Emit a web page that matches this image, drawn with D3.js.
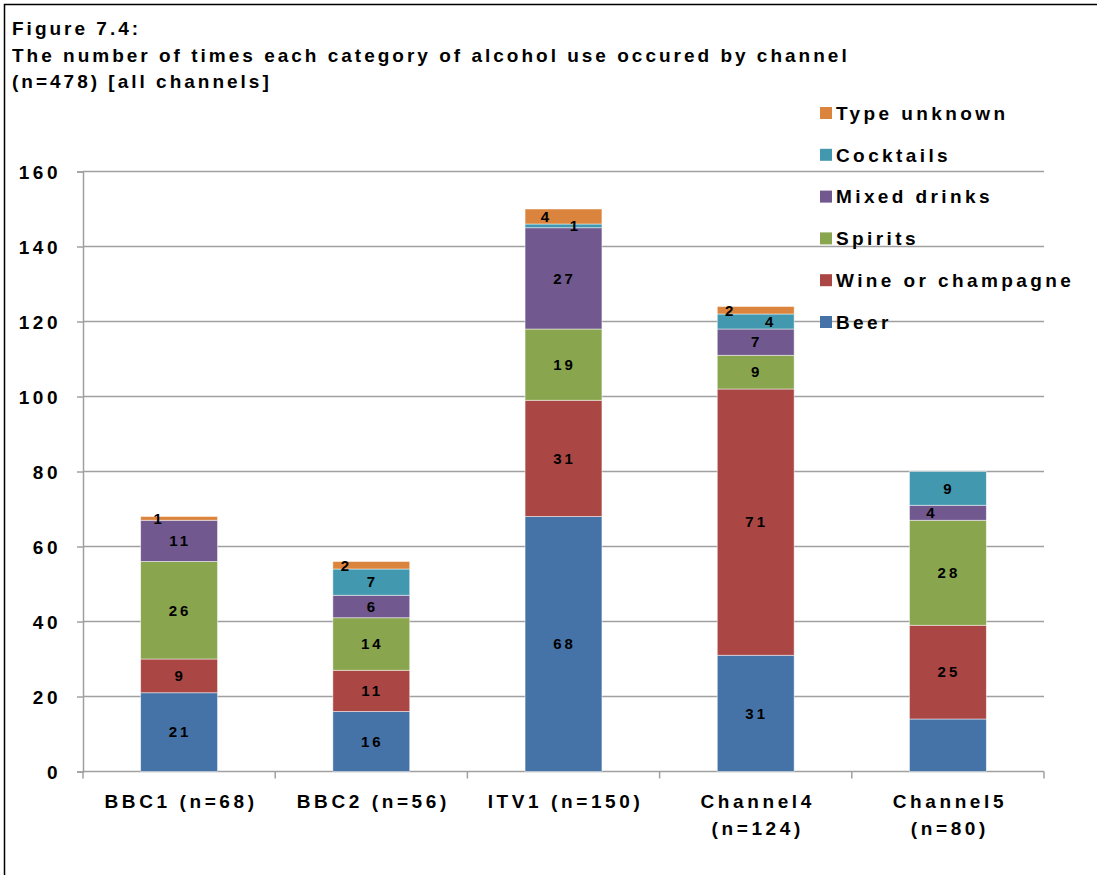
<!DOCTYPE html>
<html><head><meta charset="utf-8">
<script src="https://cdn.jsdelivr.net/npm/d3@7"></script>
<style>
html,body{margin:0;padding:0;background:#fff;}
svg{display:block;font-family:"Liberation Sans",Arial,sans-serif;font-weight:bold;}
</style></head>
<body><svg id="c" width="1097" height="875"></svg>
<script>
const categories = ["BBC1 (n=68)","BBC2 (n=56)","ITV1 (n=150)","Channel4\n(n=124)","Channel5\n(n=80)"];
const seriesNames = ["Beer","Wine or champagne","Spirits","Mixed drinks","Cocktails","Type unknown"];
const beer      = [21,16,68,31,14];
const wine      = [9,11,31,71,25];
const spirits   = [26,14,19,9,28];
const mixed     = [11,6,27,7,4];
const cocktails = [0,7,1,4,9];
const unknown   = [1,2,4,2,0];
const showLabel = [[1,1,1,1,0],[1,1,1,1,1],[1,1,1,1,1],[1,1,1,1,1],[0,1,1,1,1],[1,1,1,1,0]];
const yTicks = [0,20,40,60,80,100,120,140,160];
const colors = ["#4572A7","#AA4643","#89A54E","#71588F","#4198AF","#DB843D"];
// small-label horizontal nudges (px) as in original
const nudge = {"5-0":-21,"5-1":-26,"5-2":-18,"4-2":11,"5-3":-26,"4-3":14,"3-4":-17};

const series = [beer,wine,spirits,mixed,cocktails,unknown];
const svg = d3.select("#c");

svg.append("rect").attr("x",4.5).attr("y",4.5).attr("width",1200).attr("height",1000)
  .attr("fill","none").attr("stroke","#000").attr("stroke-width",1.5);

const title = ["Figure 7.4:","The number of times each category of alcohol use occured by channel","(n=478) [all channels]"];
svg.selectAll("text.title").data(title).join("text").attr("class","title")
  .attr("x",12).attr("y",(d,i)=>[35,62,88][i]).attr("font-size",19).attr("letter-spacing","3px")
  .text(d=>d);

const x = d3.scaleBand().domain(categories).range([83,1044]).paddingInner(0.6).paddingOuter(0.3);
const y = d3.scaleLinear().domain([0,160]).range([771.5,171.5]);

const grid = "#a0a0a0";
svg.append("g").selectAll("line").data(yTicks.filter(d=>d>0)).join("line")
  .attr("x1",83).attr("x2",1044).attr("y1",d=>y(d)).attr("y2",d=>y(d))
  .attr("stroke",grid).attr("stroke-width",1.5);

const yAxis = svg.append("g").attr("transform","translate(83,0)")
  .call(d3.axisLeft(y).tickValues(yTicks).tickSize(6).tickPadding(16));
yAxis.select(".domain").attr("stroke",grid).attr("stroke-width",1.5);
yAxis.selectAll(".tick line").attr("stroke",grid).attr("stroke-width",1.5);
yAxis.selectAll("text").attr("font-size",19).attr("font-family","Liberation Sans, Arial").attr("font-weight","bold")
  .attr("fill","#000").attr("letter-spacing","3.5px").attr("dy","0.35em");

const step = x.step();
const bounds = d3.range(categories.length+1).map(i=>83+i*step);
svg.append("line").attr("x1",83).attr("x2",1044).attr("y1",y(0)).attr("y2",y(0)).attr("stroke",grid).attr("stroke-width",1.5);
svg.append("g").selectAll("line").data(bounds).join("line")
  .attr("x1",d=>d).attr("x2",d=>d).attr("y1",y(0)).attr("y2",y(0)+7).attr("stroke",grid).attr("stroke-width",1.5);

const stackData = categories.map((c,i)=>{const o={cat:c}; seriesNames.forEach((s,j)=>o[s]=series[j][i]); return o;});
const stacked = d3.stack().keys(seriesNames)(stackData);

const gBars = svg.append("g");
stacked.forEach((layer,j)=>{
  gBars.selectAll(null).data(layer).join("rect")
    .attr("x",d=>x(d.data.cat)).attr("width",x.bandwidth())
    .attr("y",d=>y(d[1])).attr("height",d=>Math.max(0,y(d[0])-y(d[1])))
    .attr("fill",colors[j]).attr("stroke","rgba(255,255,255,0.6)").attr("stroke-width",d=>d[1]>d[0]?0.8:0);
});
const gLab = svg.append("g");
stacked.forEach((layer,j)=>{
  layer.forEach((d,i)=>{
    if(!showLabel[j][i] || d[1]===d[0]) return;
    const dx = nudge[j+"-"+i]||0;
    gLab.append("text").attr("x",x(d.data.cat)+x.bandwidth()/2+dx+1).attr("y",y((d[0]+d[1])/2))
      .attr("dy","0.35em").attr("text-anchor","middle").attr("font-size",15).attr("letter-spacing","3px")
      .text(series[j][i]);
  });
});

categories.forEach(c=>{
  const lines = c.split("\n");
  const t = svg.append("text").attr("text-anchor","middle").attr("font-size",19).attr("letter-spacing","3.6px");
  lines.forEach((l,k)=>t.append("tspan").attr("x",x(c)+x.bandwidth()/2+2).attr("y",808+k*27).text(l));
});

const legendOrder = [5,4,3,2,1,0];
const lg = svg.append("g");
legendOrder.forEach((j,k)=>{
  const cy = 113+k*41.8;
  lg.append("rect").attr("x",820).attr("y",cy-6).attr("width",12).attr("height",12).attr("fill",colors[j]);
  lg.append("text").attr("x",836).attr("y",cy).attr("dy","0.36em").attr("font-size",19).attr("letter-spacing","3.4px").text(seriesNames[j]);
});
</script></body></html>
